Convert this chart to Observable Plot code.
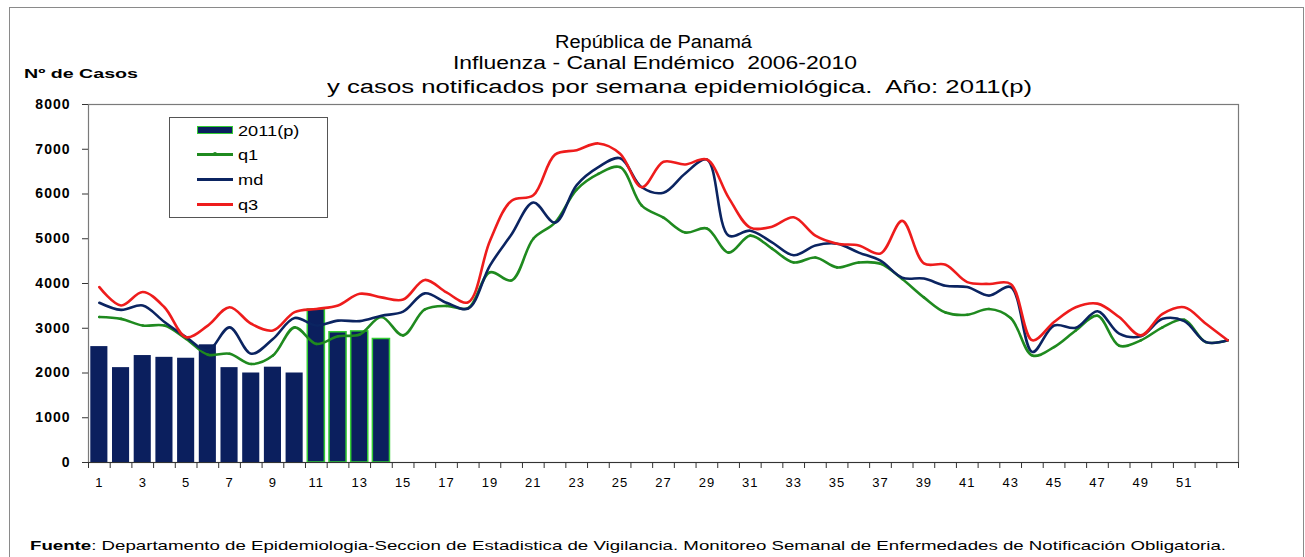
<!DOCTYPE html>
<html><head><meta charset="utf-8">
<script src="https://cdn.jsdelivr.net/npm/d3@7"></script>
<script src="https://cdn.jsdelivr.net/npm/@observablehq/plot@0.6"></script>
<style>
body{margin:0;background:#fff;font-family:"Liberation Sans",Arial,sans-serif;color:#000;}
#wrap{position:relative;width:1305px;height:557px;overflow:hidden;background:#fff;}
#border{position:absolute;left:9px;top:7px;width:1293px;height:620px;border:1px solid #8a8a8a;}
#chart{position:absolute;left:0;top:0;}
.fit{position:absolute;white-space:nowrap;transform-origin:0 50%;display:inline-block;}
.t{font-size:18px;line-height:20px;}
#legend{position:absolute;left:169px;top:117px;width:157px;height:99px;border:1px solid #555;background:#fff;}
.li{position:absolute;left:0;width:157px;height:20px;}
.sw{position:absolute;left:27px;width:36px;}
.lt{position:absolute;left:68px;top:1px;font-size:14px;line-height:18px;white-space:nowrap;transform-origin:0 50%;transform:scaleX(1.3);}
</style></head>
<body>
<div id="wrap">
  <div id="border"></div>
  <div id="chart"></div>
  <div class="fit t" data-w="197" style="left:555px;top:32px;">República de Panamá</div>
  <div class="fit t" data-w="404" style="left:453px;top:53px;">Influenza - Canal Endémico&nbsp; 2006-2010</div>
  <div class="fit t" data-w="705" style="left:327px;top:77px;">y casos notificados por semana epidemiológica.&nbsp; Año: 2011(p)</div>
  <div class="fit" data-w="114" style="left:24px;top:66px;font-size:13px;line-height:16px;font-weight:bold;">Nº de Casos</div>
  <div class="fit" data-w="1196" style="left:30px;top:538px;font-size:13px;line-height:16px;"><b>Fuente</b>: Departamento de Epidemiologia-Seccion de Estadistica de Vigilancia. Monitoreo Semanal de Enfermedades de Notificación Obligatoria.</div>
  <div id="legend">
    <div class="li" style="top:3px;"><div class="sw" style="top:5px;height:8px;background:#0b1f5e;border:1px solid #3c3;box-sizing:border-box;"></div><div class="lt">2011(p)</div></div>
    <div class="li" style="top:27px;"><div class="sw" style="top:8px;height:3px;background:#1f8a1f;"></div><div style="position:absolute;left:43px;top:7px;width:4px;height:4px;border-radius:2px;background:#1f8a1f;"></div><div class="lt">q1</div></div>
    <div class="li" style="top:52px;"><div class="sw" style="top:8px;height:3px;background:#0b2461;"></div><div class="lt">md</div></div>
    <div class="li" style="top:77px;"><div class="sw" style="top:8px;height:3px;background:#ee1c1c;"></div><div class="lt">q3</div></div>
  </div>
</div>
<script>
const weeks = d3.range(1, 54);
const casos2011 = [2590, 2120, 2390, 2350, 2330, 2630, 2120, 2000, 2130, 2000, 3420, 2910, 2930, 2760];
const q1 = [3250, 3210, 3060, 3060, 2760, 2410, 2430, 2200, 2390, 3020, 2650, 2820, 2860, 3250, 2840, 3420, 3500, 3450, 4250, 4070,
            5000, 5360, 6100, 6450, 6600, 5740, 5470, 5140, 5230, 4690, 5070, 4780, 4470, 4580, 4360, 4470, 4440, 4100, 3690, 3350,
            3300, 3430, 3230, 2390, 2580, 2950, 3280, 2610, 2730, 3020, 3190, 2690, 2730];
const md = [3570, 3410, 3510, 3140, 2800, 2500, 3020, 2430, 2760, 3230, 3060, 3170, 3160, 3280, 3370, 3780, 3570, 3440, 4400, 5100,
            5810, 5360, 6200, 6600, 6800, 6150, 6030, 6460, 6770, 5070, 5180, 4920, 4630, 4850, 4890, 4690, 4510, 4130, 4110, 3950,
            3920, 3730, 3920, 2470, 3060, 3010, 3380, 2880, 2820, 3210, 3160, 2690, 2730];
const q3 = [3920, 3510, 3810, 3470, 2800, 3060, 3470, 3100, 2950, 3360, 3430, 3510, 3770, 3690, 3640, 4080, 3800, 3580, 4950, 5850,
            5970, 6880, 6980, 7130, 6900, 6150, 6720, 6660, 6770, 5920, 5250, 5270, 5480, 5070, 4890, 4850, 4670, 5400, 4450, 4420,
            4030, 3990, 3990, 2730, 3140, 3470, 3550, 3250, 2840, 3320, 3470, 3100, 2730];
const yTicks = [0, 1000, 2000, 3000, 4000, 5000, 6000, 7000, 8000];
const xTickLabels = d3.range(1, 52, 2);

const bars = casos2011.map((v, i) => ({week: i + 1, value: v, late: i >= 10}));
const toSeries = arr => arr.map((v, i) => ({week: weeks[i], value: v}));
const q1Data = toSeries(q1), mdData = toSeries(md), q3Data = toSeries(q3);

const W = 1305, H = 500, mL = 88, mR = 67, mT = 104, mB = 38;
const halfBand = (W - mL - mR) / weeks.length / 2;

const chart = Plot.plot({
  width: W, height: H,
  marginTop: mT, marginLeft: mL, marginRight: mR, marginBottom: mB,
  style: {fontFamily: "Liberation Sans, Arial, sans-serif", background: "transparent", letterSpacing: "1px"},
  x: {type: "band", domain: weeks, padding: 0, axis: null},
  y: {domain: [0, 8000], axis: null},
  marks: [
    Plot.frame({stroke: "#7a7a7a", strokeWidth: 1.2}),
    Plot.barY(bars, {x: "week", y: "value", fill: "#0b1f5e", stroke: d => d.late ? "#33cc33" : "none", strokeWidth: 1.5, insetLeft: 2.3, insetRight: 2.3}),
    Plot.lineY(q1Data, {x: "week", y: "value", stroke: "#1f8a1f", strokeWidth: 2.6, curve: "catmull-rom"}),
    Plot.dot(q1Data, {x: "week", y: "value", r: 1.3, fill: "#1f8a1f"}),
    Plot.lineY(mdData, {x: "week", y: "value", stroke: "#0b2461", strokeWidth: 2.6, curve: "catmull-rom"}),
    Plot.lineY(q3Data, {x: "week", y: "value", stroke: "#ee1c1c", strokeWidth: 2.6, curve: "catmull-rom"}),
    Plot.ruleY([0], {stroke: "#333", strokeWidth: 1.2}),
    Plot.ruleX([0], {frameAnchor: "left", stroke: "#444"}),
    Plot.axisY({ticks: yTicks, tickFormat: d => String(d), tickSize: 6, tickPadding: 12, fontSize: 14, fontWeight: "bold", label: null, stroke: "#333"}),
    Plot.ruleX(weeks, {x: d => d, dx: -halfBand, insetTop: H - mT - mB, insetBottom: -6, stroke: "#333"}),
    Plot.ruleX([weeks[weeks.length - 1]], {x: d => d, dx: halfBand, insetTop: H - mT - mB, insetBottom: -6, stroke: "#333"}),
    Plot.axisX({ticks: xTickLabels, tickSize: 0, tickPadding: 15, fontSize: 13, label: null})
  ]
});
document.getElementById("chart").appendChild(chart);

document.querySelectorAll(".fit").forEach(el => {
  const w = el.getBoundingClientRect().width;
  const target = +el.dataset.w;
  el.style.transform = `scaleX(${target / w})`;
});
</script>
</body></html>
